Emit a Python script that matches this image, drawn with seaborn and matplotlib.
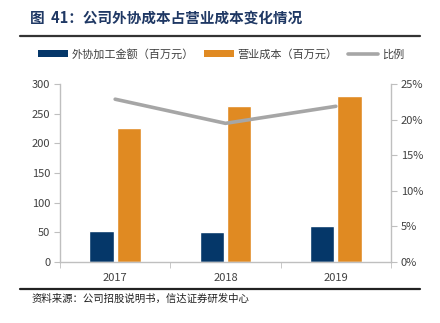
import matplotlib
matplotlib.use("Agg")
import matplotlib.pyplot as plt
import seaborn as sns
import pandas as pd
from matplotlib.lines import Line2D
from matplotlib.patches import Patch
from matplotlib.ticker import FuncFormatter, FixedLocator

years = ["2017", "2018", "2019"]
outsourcing = [51.5, 50.8, 61.0]
op_cost = [226.5, 264.0, 281.0]
ratio = [0.229, 0.195, 0.219]
series_names = ["外协加工金额（百万元）", "营业成本（百万元）", "比例"]
title = "图  41：公司外协成本占营业成本变化情况"
source = "资料来源：公司招股说明书，信达证券研发中心"
left_ticks = [0, 50, 100, 150, 200, 250, 300]
right_ticks = [0, 0.05, 0.10, 0.15, 0.20, 0.25]

sns.set_style("white")
plt.rcParams["font.family"] = ["Noto Sans CJK SC", "DejaVu Sans"]

navy = "#053769"
orange = "#E08A22"
gray = "#A6A6A6"
axis_gray = "#BFBFBF"
text_col = "#404040"

df = pd.DataFrame({
    "year": years * 2,
    "value": outsourcing + op_cost,
    "series": [series_names[0]] * 3 + [series_names[1]] * 3,
})

fig = plt.figure(figsize=(4.4, 3.23), dpi=100)
ax = fig.add_axes([60 / 440, 1 - 261.7 / 323, (391 - 60) / 440, (261.7 - 84.3) / 323])

sns.barplot(data=df, x="year", y="value", hue="series",
            palette=[navy, orange], width=0.5, gap=0.12,
            ax=ax, legend=False, saturation=1)
ax.set_xlim(-0.5, 2.5)
ax.set_ylim(0, 300)
ax.set_yticks(left_ticks)
ax.set_xlabel("")
ax.set_ylabel("")

ax2 = ax.twinx()
sns.lineplot(x=[0, 1, 2], y=ratio, ax=ax2, color=gray, linewidth=2.6)
ax2.set_ylim(0, 0.25)
ax2.set_yticks(right_ticks)
ax2.yaxis.set_major_formatter(FuncFormatter(lambda v, p: f"{v*100:.0f}%"))
ax2.set_xlim(-0.5, 2.5)

for a in (ax, ax2):
    a.spines["top"].set_visible(False)
    for s in ("left", "right", "bottom"):
        a.spines[s].set_color(axis_gray)
        a.spines[s].set_linewidth(1.0)
ax2.spines["bottom"].set_visible(False)
ax.spines["right"].set_visible(False)
ax2.spines["left"].set_visible(False)

ax.tick_params(axis="y", which="major", length=4, color=axis_gray, labelsize=8, labelcolor=text_col, pad=3, left=True)
ax2.tick_params(axis="y", which="major", length=4, color=axis_gray, labelsize=8, labelcolor=text_col, pad=3, right=True)
ax.tick_params(axis="x", which="major", length=0, labelsize=8, labelcolor=text_col, pad=8)
ax.xaxis.set_minor_locator(FixedLocator([-0.5, 0.5, 1.5, 2.5]))
ax.tick_params(axis="x", which="minor", length=4, color=axis_gray, bottom=True)

# title and rules
fig.text(30 / 440, 1 - 18 / 323, title, fontsize=10.5, fontweight="bold",
         color="#1F3864", va="center", ha="left")
fig.add_artist(Line2D([20 / 440, 420 / 440], [1 - 36 / 323] * 2, color="#333333", linewidth=1.6))
fig.add_artist(Line2D([20 / 440, 420 / 440], [1 - 289 / 323] * 2, color="#222222", linewidth=1.6))
fig.text(32 / 440, 1 - 298.5 / 323, source, fontsize=7.5, color="#222222",
         va="center", ha="left", fontstyle="italic")

handles = [Patch(facecolor=navy, edgecolor="none"),
           Patch(facecolor=orange, edgecolor="none"),
           Line2D([0], [0], color=gray, linewidth=2.6)]
fig.legend(handles, series_names, loc="center", bbox_to_anchor=(221 / 440, 1 - 54 / 323),
           ncol=3, frameon=False, fontsize=8, handlelength=2.7, handleheight=0.55,
           handletextpad=0.3, columnspacing=0.95, labelcolor=text_col)

fig.savefig("out.png", dpi=100)
